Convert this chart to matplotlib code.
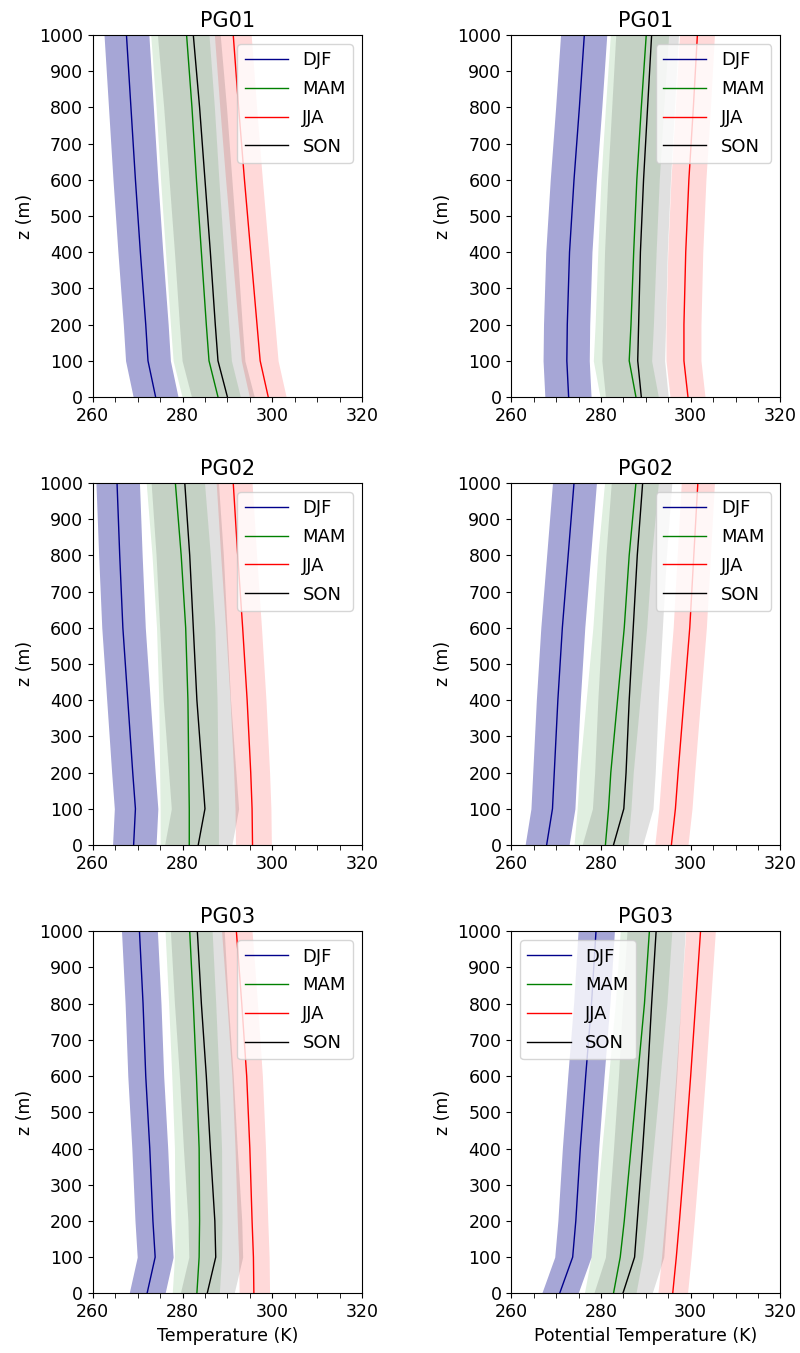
import matplotlib
matplotlib.use("Agg")
import matplotlib.pyplot as plt
from matplotlib.ticker import MultipleLocator
import numpy as np

plt.rcParams["font.family"] = ["DejaVu Sans"]
plt.rcParams["font.size"] = 12.5

Z = [0, 100, 200, 400, 600, 800, 1000]
SEASONS = ["DJF", "MAM", "JJA", "SON"]
STATIONS = ["PG01", "PG02", "PG03"]

# mean profiles (K) at the heights in Z
PG01_T_DJF = [274.0, 272.3, 271.8, 270.6, 269.5, 268.5, 267.5]
PG01_T_MAM = [287.9, 285.9, 285.3, 284.2, 283.1, 282.1, 280.9]
PG01_T_JJA = [299.1, 297.3, 296.6, 295.2, 293.8, 292.5, 291.3]
PG01_T_SON = [290.0, 287.9, 287.3, 286.2, 285.0, 283.8, 282.4]

PG02_T_DJF = [269.1, 269.5, 268.9, 267.8, 266.7, 266.0, 265.4]
PG02_T_MAM = [281.5, 281.5, 281.4, 281.2, 280.7, 279.7, 278.4]
PG02_T_JJA = [295.6, 295.5, 295.2, 294.4, 293.4, 292.3, 291.3]
PG02_T_SON = [283.5, 285.0, 284.4, 283.2, 282.4, 281.6, 280.5]

PG03_T_DJF = [272.1, 273.9, 273.4, 272.7, 271.8, 271.2, 270.4]
PG03_T_MAM = [283.2, 283.7, 283.8, 283.7, 283.1, 282.4, 281.6]
PG03_T_JJA = [295.9, 295.8, 295.5, 295.0, 294.3, 293.2, 292.0]
PG03_T_SON = [285.5, 287.4, 287.2, 286.2, 285.3, 284.2, 283.3]

PG01_TH_DJF = [272.8, 272.4, 272.5, 273.0, 274.0, 275.2, 276.3]
PG01_TH_MAM = [287.8, 286.3, 286.7, 287.3, 288.0, 289.0, 290.1]
PG01_TH_JJA = [299.4, 298.5, 298.5, 298.9, 299.6, 300.6, 301.5]
PG01_TH_SON = [289.0, 288.2, 288.4, 288.8, 289.5, 290.4, 291.3]

PG02_TH_DJF = [267.9, 269.2, 269.6, 270.4, 271.4, 272.7, 274.0]
PG02_TH_MAM = [281.0, 281.7, 282.2, 283.7, 285.2, 286.3, 287.8]
PG02_TH_JJA = [295.7, 296.6, 297.2, 298.5, 299.8, 300.7, 301.6]
PG02_TH_SON = [282.8, 285.1, 285.6, 286.3, 287.2, 288.1, 289.3]

PG03_TH_DJF = [270.8, 273.7, 274.4, 275.4, 276.6, 277.9, 278.9]
PG03_TH_MAM = [282.8, 284.3, 285.2, 286.7, 288.2, 289.7, 290.8]
PG03_TH_JJA = [296.0, 296.8, 297.5, 298.8, 300.0, 301.1, 302.2]
PG03_TH_SON = [284.9, 287.5, 288.1, 289.3, 290.4, 291.3, 292.3]

# spread below / above the mean (K), per season DJF, MAM, JJA, SON
PG01_T_SPREAD = [(5.0, 5.0), (8.0, 5.0), (4.2, 4.0), (8.0, 6.0)]
PG02_T_SPREAD = [(4.7, 5.0), (6.5, 6.5), (3.8, 4.2), (7.5, 7.5)]
PG03_T_SPREAD = [(4.0, 4.0), (5.5, 5.0), (3.3, 3.5), (6.0, 6.0)]
PG01_TH_SPREAD = [(5.3, 5.0), (8.0, 5.0), (4.0, 3.8), (8.0, 6.0)]
PG02_TH_SPREAD = [(4.8, 5.0), (7.0, 5.0), (3.7, 3.7), (7.0, 6.5)]
PG03_TH_SPREAD = [(4.0, 4.1), (6.5, 5.0), (3.3, 3.3), (6.5, 6.5)]

PANELS = [
    ([PG01_T_DJF, PG01_T_MAM, PG01_T_JJA, PG01_T_SON], PG01_T_SPREAD),
    ([PG01_TH_DJF, PG01_TH_MAM, PG01_TH_JJA, PG01_TH_SON], PG01_TH_SPREAD),
    ([PG02_T_DJF, PG02_T_MAM, PG02_T_JJA, PG02_T_SON], PG02_T_SPREAD),
    ([PG02_TH_DJF, PG02_TH_MAM, PG02_TH_JJA, PG02_TH_SON], PG02_TH_SPREAD),
    ([PG03_T_DJF, PG03_T_MAM, PG03_T_JJA, PG03_T_SON], PG03_T_SPREAD),
    ([PG03_TH_DJF, PG03_TH_MAM, PG03_TH_JJA, PG03_TH_SON], PG03_TH_SPREAD),
]

LINE_COLORS = ["darkblue", "green", "red", "black"]
FILL_ALPHA = [0.35, 0.12, 0.15, 0.12]


def main():
    fig = plt.figure(figsize=(8, 13.53), dpi=100)
    lefts = [0.116, 0.639]
    bottoms = [0.7066, 0.3755, 0.0441]
    w, h = 0.3365, 0.2676

    for i, (profiles, spread) in enumerate(PANELS):
        row, col = divmod(i, 2)
        ax = fig.add_axes([lefts[col], bottoms[row], w, h])
        z = np.array(Z)
        for k, season in enumerate(SEASONS):
            m = np.array(profiles[k])
            lo, hi = spread[k]
            ax.fill_betweenx(z, m - lo, m + hi, color=LINE_COLORS[k],
                             alpha=FILL_ALPHA[k], linewidth=0)
            ax.plot(m, z, color=LINE_COLORS[k], linewidth=1.0, label=season)

        ax.set_xlim(260, 320)
        ax.set_ylim(0, 1000)
        ax.set_xticks([260, 280, 300, 320])
        ax.xaxis.set_minor_locator(MultipleLocator(5))
        ax.yaxis.set_major_locator(MultipleLocator(100))
        ax.tick_params(which="minor", length=3.5)
        ax.set_title(STATIONS[row])
        ax.set_ylabel("z (m)")
        if row == 2:
            ax.set_xlabel("Temperature (K)" if col == 0 else "Potential Temperature (K)")
        loc = "upper left" if i == 5 else "upper right"
        ax.legend(loc=loc, fontsize=13, labelspacing=0.6, handlelength=2.4)

    fig.savefig("out.png", dpi=100)


if __name__ == "__main__":
    main()
